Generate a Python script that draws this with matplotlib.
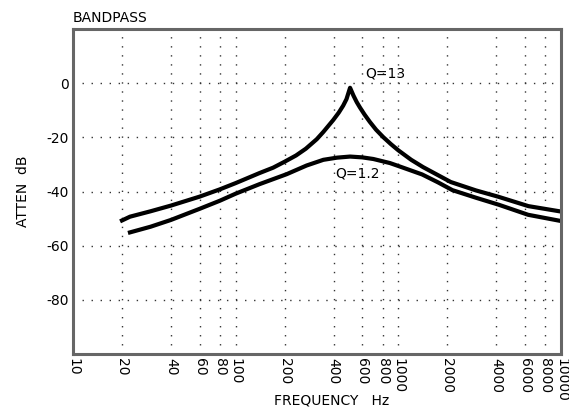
import matplotlib
matplotlib.use("Agg")
import matplotlib.pyplot as plt
from matplotlib.ticker import FixedLocator, NullLocator

# Data
q13_freq = [20, 22.4, 30, 40, 60, 80, 100, 140, 170, 200, 235, 270, 315, 346, 398, 430, 458, 480,
            505, 530, 555, 581, 620, 668, 730, 807, 900, 1000, 1200, 1420, 2100, 3000, 4100, 6300, 10000]
q13_db = [-50.7, -49.3, -47.3, -45.2, -41.9, -39.2, -36.9, -33.2, -31.2, -29.0, -26.7, -24.2, -20.7, -18.0,
          -13.6, -10.9, -8.3, -5.9, -1.7, -4.6, -7.0, -9.0, -11.6, -14.3, -17.2, -19.9, -22.5, -24.8,
          -28.3, -31.0, -36.5, -39.6, -41.9, -45.4, -47.4]

q12_freq = [22.4, 30, 40, 60, 80, 100, 140, 206, 273, 346, 420, 505, 600, 702, 888, 1024,
            1400, 1750, 2150, 3000, 4150, 6280, 10000]
q12_db = [-55.1, -53.0, -50.5, -46.4, -43.4, -40.8, -37.3, -33.6, -30.4, -28.3, -27.5, -27.1,
          -27.4, -28.0, -29.5, -30.8, -33.7, -36.6, -39.5, -42.3, -44.9, -48.6, -50.9]

xticks = [10, 20, 40, 60, 80, 100, 200, 400, 600, 800, 1000, 2000, 4000, 6000, 8000, 10000]
xticklabels = [str(v) for v in xticks]
yticks = [0, -20, -40, -60, -80]
yticklabels = [str(v) for v in yticks]

fig = plt.figure(figsize=(5.69, 4.19), dpi=100)
ax = fig.add_axes([73/569, 1 - 354/419, 488/569, 325/419])

ax.set_xscale('log')
ax.set_xlim(10, 10000)
ax.set_ylim(-100, 20)

ax.xaxis.set_major_locator(FixedLocator(xticks))
ax.xaxis.set_minor_locator(NullLocator())
ax.set_xticklabels(xticklabels, rotation=-90, fontsize=10)
ax.yaxis.set_major_locator(FixedLocator(yticks))
ax.yaxis.set_minor_locator(NullLocator())
ax.set_yticklabels(yticklabels, fontsize=10)
ax.tick_params(axis='both', length=0, pad=3)

ax.grid(True, which='major', color='#333333', linestyle=(0, (1, 5.5)), linewidth=1.0)
ax.set_axisbelow(True)

for sp in ax.spines.values():
    sp.set_color('#666666')
    sp.set_linewidth(2.2)

ax.plot(q13_freq, q13_db, color='black', linewidth=3.0, solid_joinstyle='round')
ax.plot(q12_freq, q12_db, color='black', linewidth=3.0, solid_joinstyle='round')

ax.text(630, 3.7, 'Q=13', fontsize=10, ha='left', va='center')
ax.text(408, -33.2, 'Q=1.2', fontsize=10, ha='left', va='center')

ax.set_title('BANDPASS', loc='left', fontsize=10, pad=5)
ax.set_xlabel('FREQUENCY   Hz', fontsize=10)
ax.xaxis.set_label_coords((332 - 73) / 488, -0.123)
ax.set_ylabel('ATTEN  dB', fontsize=10)
ax.yaxis.set_label_coords(-0.088, 0.5)

fig.savefig('out.png', dpi=100)
